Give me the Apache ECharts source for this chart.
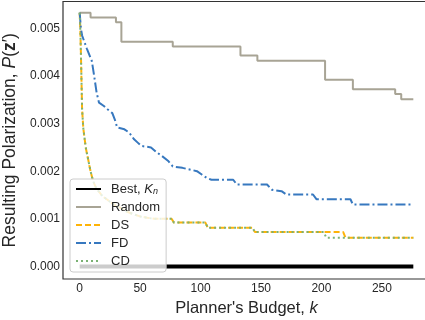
<!DOCTYPE html>
<html>
<head>
<meta charset="utf-8">
<script src="https://cdn.jsdelivr.net/npm/echarts@6/dist/echarts.min.js"></script>
<style>
html,body{margin:0;padding:0;background:#fff;}
#chart{width:425px;height:320px;}
</style>
</head>
<body>
<div id="chart"></div>
<script>
// ---- data ----
const xTicks = [0, 50, 100, 150, 200, 250];
const yTicks = [0, 0.001, 0.002, 0.003, 0.004, 0.005];

const bestK = [0, 276];
const bestP = [0, 0];

// Random (step: value holds until next k)
const randomK = [0, 9, 30, 34.5, 77, 133, 147, 203, 226, 261, 266, 276];
const randomP = [0.00533, 0.00523, 0.00513, 0.00472, 0.00462, 0.00443, 0.00432, 0.00392, 0.00372, 0.00362, 0.00351, 0.00351];

const dsK = [0, 0.5, 1, 1.5, 2, 3, 4, 5, 6, 7, 8, 9, 11, 13, 15, 19, 23, 27, 33, 38, 44, 50, 56, 62, 76, 78, 104, 106, 143, 145, 218, 220, 276];
const dsP = [0.00533, 0.0050, 0.0045, 0.0039, 0.0033, 0.0029, 0.0027, 0.0025, 0.00237, 0.00225, 0.00212, 0.0020, 0.0018, 0.00168, 0.0016, 0.00147, 0.0014, 0.00132, 0.00124, 0.00116, 0.0011, 0.00105, 0.00102, 0.0010, 0.0010, 0.00092, 0.00092, 0.00081, 0.00081, 0.00072, 0.00072, 0.0006, 0.0006];

const fdK = [0, 1, 2, 6, 10, 12, 14, 16, 20, 23, 27, 29, 31, 37, 41, 45, 48, 51, 59, 64, 68, 73, 77, 85, 97, 101, 105, 109, 127, 130, 155, 159, 167, 171, 193, 196, 224, 226, 276];
const fdP = [0.00533, 0.0050, 0.00485, 0.00457, 0.00432, 0.0040, 0.00365, 0.00344, 0.00337, 0.0033, 0.00322, 0.00309, 0.00292, 0.00288, 0.00281, 0.00267, 0.0026, 0.00253, 0.0025, 0.00239, 0.00232, 0.00222, 0.0021, 0.00207, 0.0020, 0.00193, 0.00186, 0.00182, 0.00182, 0.00172, 0.00172, 0.00161, 0.00158, 0.00151, 0.00151, 0.00141, 0.00141, 0.0013, 0.0013];

const cdK = [0, 0.5, 1, 1.5, 2, 3, 4, 5, 6, 7, 8, 9, 11, 13, 15, 19, 23, 27, 33, 38, 44, 50, 56, 62, 76, 78, 104, 106, 143, 145, 202, 204, 276];
const cdP = [0.00533, 0.0050, 0.0045, 0.0039, 0.0033, 0.0029, 0.0027, 0.0025, 0.00237, 0.00225, 0.00212, 0.0020, 0.0018, 0.00168, 0.0016, 0.00147, 0.0014, 0.00132, 0.00124, 0.00116, 0.0011, 0.00105, 0.00102, 0.0010, 0.0010, 0.00092, 0.00092, 0.00081, 0.00081, 0.00072, 0.00072, 0.0006, 0.0006];

const seriesNames = ['Best', 'Random', 'DS', 'FD', 'CD'];
const seriesColors = ['#000000', '#a8a495', '#feb308', '#3778bf', '#7bb274'];

function pairs(k, p) { return k.map((v, i) => [v, p[i]]); }

const FONT = 'Liberation Sans, Arial, sans-serif';
const TXT = '#262626';

const chart = echarts.init(document.getElementById('chart'), null, {renderer: 'canvas'});
chart.setOption({
  animation: false,
  backgroundColor: '#fff',
  textStyle: {fontFamily: FONT},
  grid: {left: 63, right: -5, top: 1.5, bottom: 41, show: true, borderColor: '#333', borderWidth: 1.2,
         containLabel: false, outerBoundsMode: 'none'},
  legend: {
    orient: 'vertical', left: 70, top: 179,
    padding: [3, 6, 4, 5],
    itemWidth: 25, itemHeight: 10, itemGap: 4,
    backgroundColor: 'rgba(255,255,255,0.8)',
    borderColor: '#cccccc', borderWidth: 1, borderRadius: 3,
    data: seriesNames,
    itemStyle: {color: 'rgba(0,0,0,0)', borderColor: 'rgba(0,0,0,0)', borderWidth: 0, opacity: 0},
    formatter: function (name) { return name === 'Best' ? 'Best, {i|K}{s|n}' : name; },
    textStyle: {
      fontFamily: FONT, fontSize: 13, color: TXT, lineHeight: 14, padding: [0, 0, 0, 5],
      rich: {
        i: {fontFamily: FONT, fontSize: 13, fontStyle: 'italic', color: TXT, lineHeight: 14},
        s: {fontFamily: FONT, fontSize: 9, fontStyle: 'italic', color: TXT, verticalAlign: 'bottom', lineHeight: 14, padding: [5, 0, 0, 0]}
      }
    }
  },
  xAxis: {
    type: 'value', min: -13.8, max: 289.8,
    splitLine: {show: false},
    axisLine: {show: false},
    axisTick: {show: false, customValues: xTicks},
    axisLabel: {customValues: xTicks, fontSize: 12, color: TXT, margin: 4, fontFamily: FONT},
    name: "Planner's Budget, {i|k}",
    nameLocation: 'middle', nameGap: 9,
    nameTextStyle: {fontSize: 16.5, color: TXT, fontFamily: FONT,
      rich: {i: {fontSize: 16.5, fontStyle: 'italic', color: TXT, fontFamily: FONT}}}
  },
  yAxis: {
    type: 'value', min: -0.000265, max: 0.005565,
    splitLine: {show: false},
    axisLine: {show: false},
    axisTick: {show: false, customValues: yTicks},
    axisLabel: {customValues: yTicks, fontSize: 12, color: TXT, margin: 3, fontFamily: FONT,
      formatter: v => v.toFixed(3)},
    name: 'Resulting Polarization, {i|P}({b|z}′)',
    nameLocation: 'middle', nameGap: 27, nameRotate: 90,
    nameTextStyle: {fontSize: 17.5, color: TXT, fontFamily: FONT,
      rich: {i: {fontSize: 17.5, fontStyle: 'italic', color: TXT, fontFamily: FONT},
             b: {fontSize: 17.5, fontWeight: 'bold', color: TXT, fontFamily: FONT}}}
  },
  series: [
    {name: 'Best', type: 'line', data: pairs(bestK, bestP), symbol: 'none',
     lineStyle: {color: seriesColors[0], width: 4}, itemStyle: {color: seriesColors[0]}},
    {name: 'Random', type: 'line', step: 'end', data: pairs(randomK, randomP), symbol: 'none',
     lineStyle: {color: seriesColors[1], width: 2}, itemStyle: {color: seriesColors[1]}},
    {name: 'DS', type: 'line', data: pairs(dsK, dsP), symbol: 'none',
     lineStyle: {color: seriesColors[2], width: 2, type: [6, 3]}, itemStyle: {color: seriesColors[2]}},
    {name: 'FD', type: 'line', data: pairs(fdK, fdP), symbol: 'none',
     lineStyle: {color: seriesColors[3], width: 2, type: [10, 3, 2, 3]}, itemStyle: {color: seriesColors[3]}},
    {name: 'CD', type: 'line', data: pairs(cdK, cdP), symbol: 'none',
     lineStyle: {color: seriesColors[4], width: 2, type: [2, 3]}, itemStyle: {color: seriesColors[4]}}
  ]
});
</script>
</body>
</html>
